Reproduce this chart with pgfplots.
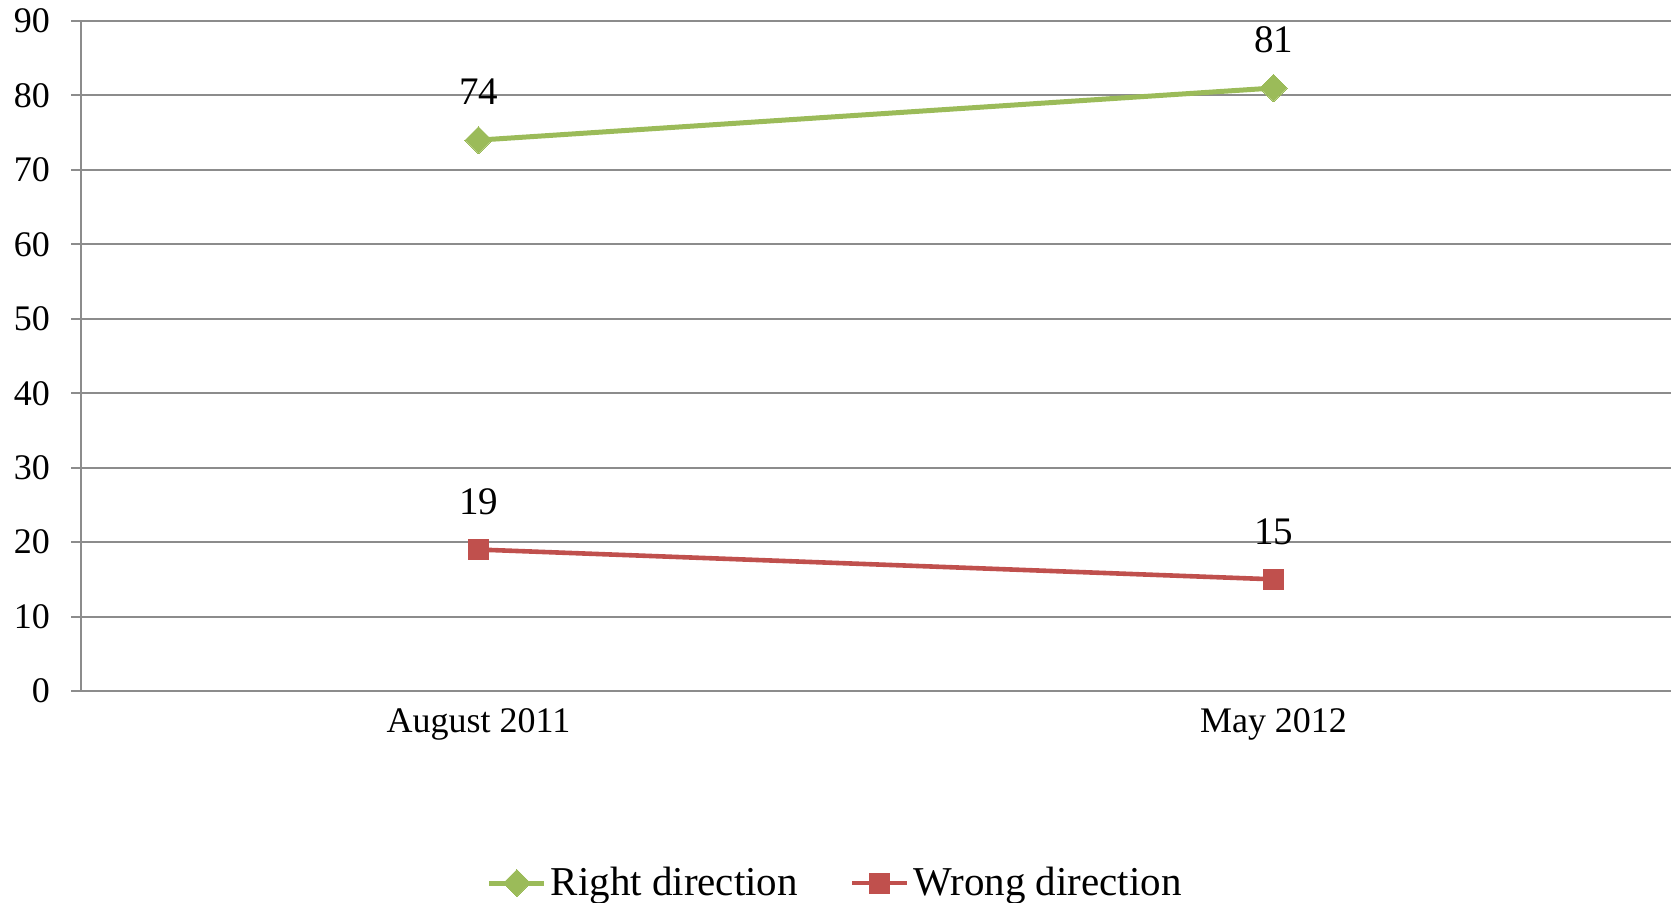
\documentclass[border=0pt]{standalone}
\usepackage{pgfplots}
\pgfplotsset{compat=1.18}
\usepackage{fontspec}
\setmainfont{Liberation Serif}
\definecolor{cgreen}{HTML}{9BBB59}
\definecolor{cred}{HTML}{C0504D}
\definecolor{cgrid}{HTML}{8C8C8C}
\begin{document}
\begin{tikzpicture}
\path[use as bounding box] (-40.5pt,-106pt) rectangle (798pt,345.5pt);
\begin{axis}[
  at={(0pt,0pt)}, anchor=south west,
  scale only axis, width=795pt, height=335pt,
  xmin=-0.5, xmax=1.5, ymin=0, ymax=90,
  axis x line=bottom, axis y line=left,
  axis line style={-, draw=cgrid, line width=1pt},
  xtick={0,1}, xticklabels={August 2011, May 2012},
  major x tick style={draw=none},
  extra x ticks={-0.5,0.5,1.5}, extra x tick labels={},
  extra x tick style={grid=none, major tick length=5pt, tick style={draw=cgrid, line width=1pt}},
  ytick={0,10,...,90},
  ymajorgrids, grid style={cgrid, line width=1pt},
  tick align=outside, major tick length=5pt,
  tick style={draw=cgrid, line width=1pt},
  /pgf/number format/assume math mode=true,
  tick label style={font=\fontsize{18}{19}\selectfont, black},
  yticklabel style={xshift=-7pt},
  nodes near coords,
  every node near coord/.append style={anchor=center, yshift=24pt, text=black, font=\fontsize{19.5}{21}\selectfont},
  legend style={at={(0.475,-0.2866)}, anchor=center, draw=none, fill=none,
    legend columns=2, font=\fontsize{20.5}{22}\selectfont,
    nodes={inner xsep=2pt, inner ysep=0pt},
    /tikz/every even column/.append style={column sep=24pt}},
  legend image code/.code={\draw[mark repeat=2, mark phase=2, #1] plot coordinates {(0pt,0pt) (13.75pt,0pt) (27.5pt,0pt)};},
]
\addplot[color=cgreen, line width=2.5pt, mark=square*, mark size=4.8pt, mark options={rotate=45, solid, fill=cgreen, draw=cgreen, line width=0pt}]
  coordinates {(0,74) (1,81)};
\addlegendentry{Right direction}
\addplot[color=cred, line width=2.3pt, mark=square*, mark size=5pt, mark options={solid, fill=cred, draw=cred, line width=0pt}]
  coordinates {(0,19) (1,15)};
\addlegendentry{Wrong direction}
\end{axis}
\end{tikzpicture}
\end{document}
